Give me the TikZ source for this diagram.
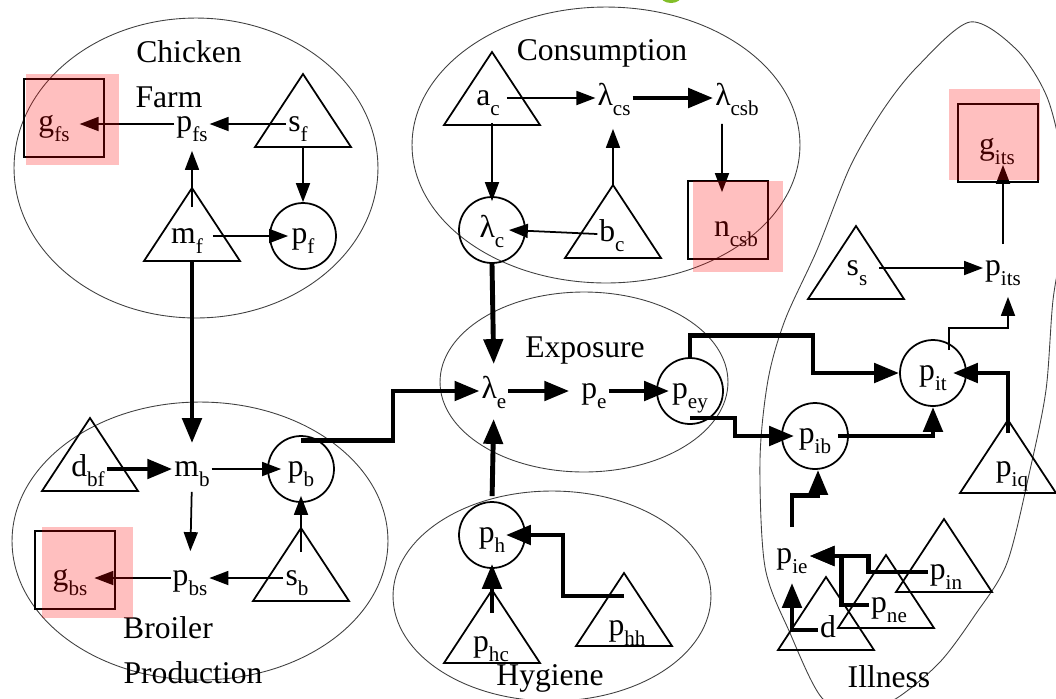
\documentclass[tikz,border=0pt]{standalone}
\usepackage{fontspec}
\setmainfont{Liberation Serif}
\usepackage{tikz}
\usetikzlibrary{arrows.meta,calc}
\definecolor{blobgreen}{RGB}{130,190,40}
\newcommand{\vsub}[2]{#1\raisebox{-6pt}{\fontsize{12}{12}\selectfont #2}}
\newcommand{\drawtri}[2]{\draw[trishape] #2 coordinate (#1) -- ++(-48,73) -- ++(48,0) coordinate (#1b) -- ++(48,0) -- cycle;}

\begin{document}
\begin{tikzpicture}[x=0.02cm,y=-0.02cm,font=\fontsize{18}{20}\selectfont,
  lbl/.style={inner sep=1pt,text height=9pt,text depth=1pt},
  ttl/.style={anchor=base,inner sep=0pt},
  grp/.style={draw=black!75,line width=0.5pt},
  circ/.style={circle,draw,line width=1pt,minimum size=1.32cm,inner sep=0pt,text height=9pt,text depth=1pt},
  sq/.style={draw,line width=1pt,minimum width=1.6cm,minimum height=1.56cm,inner sep=0pt},
  trishape/.style={line width=1pt,line join=miter},
  hl/.style={fill=red,fill opacity=0.25},
  thinarr/.style={line width=1pt,-{Triangle[length=0.38cm,width=0.28cm]}},
  thickarr/.style={line width=2.8pt,-{Triangle[length=0.5cm,width=0.38cm]}}]
\useasboundingbox (0,0) rectangle (1056,698);
\clip (0,0) rectangle (1056,698);
\fill[blobgreen] (671,-5) ellipse [x radius=0.22cm,y radius=0.16cm];

% groups
\draw[grp] (196,168) ellipse [x radius=3.64cm,y radius=3cm];
\draw[grp] (606,145) ellipse [x radius=3.88cm,y radius=2.76cm];
\draw[grp] (584,382) ellipse [x radius=2.88cm,y radius=1.8cm];
\draw[grp] (552,596) ellipse [x radius=3.18cm,y radius=2.1cm];
\draw[grp] (200,541) ellipse [x radius=3.76cm,y radius=2.78cm];
\draw[grp] plot[smooth cycle] coordinates {(970,22) (1017,50) (1047,97) (1062,160)
  (1064,230) (1053,300) (1046,390) (1030,470) (1007,563) (975,615) (940,662) (897,698)
  (860,712) (822,698) (790,633) (765,567) (760,460) (768,380) (785,320) (817,250)
  (850,167) (883,110) (917,67)};

\node[ttl] (chick) at (189,62) {Chicken};
\node[ttl] (farm) at (169,107) {Farm};
\node[ttl] (cons) at (602,60) {Consumption};
\node[ttl] (expo) at (585,357) {Exposure};
\node[ttl] (broil) at (168,638) {Broiler};
\node[ttl] (prod) at (193,683) {Production};
\node[ttl] (hyg) at (550,685) {Hygiene};
\node[ttl] (ill) at (889,687) {Illness};

% chicken farm
\node[sq] (gfsbox) at (64,118) {};
\node[lbl] (gfs) at (54,124) {\vsub{g}{fs}};
\node[lbl] (pfs) at (192,124) {\vsub{p}{fs}};
\drawtri{sfT}{(303,74)}
\node[lbl] (sf) at (298,124) {\vsub{s}{f}};
\node[circ] (pf) at (303,236) {\vsub{p}{f}};
\drawtri{mfT}{(192,188)}
\node[lbl] (mf) at (187,236) {\vsub{m}{f}};
\draw[thinarr] (sf.west) -- (pfs.east);
\draw[thinarr] (pfs.west) -- ([xshift=0.16cm]gfs.east);
\draw[thinarr] (sfTb) -- (pf.north);
\draw[thinarr,shorten >=0.32cm] ([yshift=-0.38cm]mfT) -- (pfs.south);
\draw[thinarr,shorten <=0.16cm] (mf.east) -- ([xshift=0.38cm]pf.west);

% broiler production
\drawtri{dbfT}{(90,418)}
\node[lbl] (dbf) at (88,469) {\vsub{d}{bf}};
\node[lbl] (mb) at (192,469) {\vsub{m}{b}};
\node[circ] (pb) at (301,469) {\vsub{p}{b}};
\node[lbl] (pbs) at (190,578) {\vsub{p}{bs}};
\drawtri{sbT}{(301,528)}
\node[lbl] (sb) at (297,578) {\vsub{s}{b}};
\node[sq] (gbsbox) at (75,570) {};
\node[lbl] (gbs) at (70,578) {\vsub{g}{bs}};
\draw[thickarr] (dbf.east) -- (mb.west);
\draw[thinarr] (mb.east) -- ([xshift=0.28cm]pb.west);
\draw[thinarr,shorten <=0.24cm,shorten >=0.32cm] (mb.south) -- (pbs.north);
\draw[thinarr] (sb.west) -- (pbs.east);
\draw[thinarr] ([yshift=-0.48cm]sbT) -- ([yshift=0.14cm]pb.south);
\draw[thinarr] (pbs.west) -- ([xshift=0.1cm]gbs.east);

% consumption
\drawtri{acT}{(492,52)}
\node[lbl] (ac) at (488,98) {\vsub{a}{c}};
\node[lbl] (lcs) at (614,98) {\vsub{λ}{cs}};
\node[lbl] (lcsb) at (737,98) {\vsub{λ}{csb}};
\node[sq] (ncsbbox) at (728,220) {};
\node[lbl] (ncsb) at (736,229) {\vsub{n}{csb}};
\node[circ] (lc) at (492,230) {\vsub{λ}{c}};
\drawtri{bcT}{(613,185)}
\node[lbl] (bc) at (612,234) {\vsub{b}{c}};
\draw[thinarr,shorten <=0.1cm] (ac.east) -- (lcs.west);
\draw[thickarr] (lcs.east) -- (lcsb.west);
\draw[thinarr,shorten <=0.3cm,shorten >=-0.24cm] ([xshift=-0.3cm]lcsb.south) -- ([xshift=-0.12cm]ncsbbox.north);
\draw[thinarr,shorten <=0.28cm] (lc.north |- ac.south) -- ([yshift=-0.1cm]lc.north);
\draw[thinarr] (bc.west) -- ([xshift=-0.34cm]lc.east);
\draw[thinarr,shorten >=0.4cm] (bcT) -- (bcT |- lcs.south);

% exposure
\node[lbl] (le) at (494,391) {\vsub{λ}{e}};
\node[lbl] (pe) at (594,391) {\vsub{p}{e}};
\node[circ] (pey) at (690,391) {\vsub{p}{ey}};
\draw[thickarr,shorten >=0.2cm] (le.east) -- (pe.west);
\draw[thickarr] (pe.east) -- ([xshift=0.26cm]pey.west);

% hygiene
\node[circ] (ph) at (492,535) {\vsub{p}{h}};
\drawtri{phhT}{(624,573)}
\node[lbl] (phh) at (627,628) {\vsub{p}{hh}};
\drawtri{phcT}{(492,590)}
\node[lbl] (phc) at (491,644) {\vsub{p}{hc}};
\draw[thickarr] ([yshift=-0.46cm]phhT) -- ++(-61,0) |- ([xshift=-0.4cm]ph.east);
\draw[thickarr] ([yshift=-0.46cm]phcT) -- ([yshift=0.1cm]ph.south);

% illness
\node[sq] (gitsbox) at (998,143) {};
\node[lbl] (gits) at (997,147) {\vsub{g}{its}};
\node[lbl] (pits) at (1003,268) {\vsub{p}{its}};
\drawtri{ssT}{(856,226)}
\node[lbl] (ss) at (857,268) {\vsub{s}{s}};
\node[circ] (pit) at (933,373) {\vsub{p}{it}};
\node[circ] (pib) at (815,436) {\vsub{p}{ib}};
\drawtri{piqT}{(1008,420)}
\node[lbl] (piq) at (1012,469) {\vsub{p}{iq}};
\node[lbl] (pie) at (792,556) {\vsub{p}{ie}};
\drawtri{pinT}{(944,519)}
\node[lbl] (pin) at (946,572) {\vsub{p}{in}};
\drawtri{pneT}{(886,555)}
\node[lbl] (pne) at (889,605) {\vsub{p}{ne}};
\drawtri{dT}{(826,577)}
\node[lbl] (dill) at (828,630) {d};
\draw[thinarr,shorten <=0.26cm,shorten >=-0.36cm] (pits.north) -- (pits.north |- gitsbox.south);
\draw[thinarr,shorten <=0.2cm] (ss.east) -- (pits.west);
\draw[thinarr,shorten >=0.36cm] ([shift={(0.32cm,-0.22cm)}]pit.north) -- ++(0,-22) -| ([xshift=0.1cm]pits.south);
\draw[thickarr] ([xshift=-0.22cm]pib.east) -| (pit.south);
\draw[thickarr] ([yshift=-0.26cm]piqT) |- ([xshift=-0.28cm]pit.east);
\draw[thickarr] ([yshift=0.36cm]pie.north) -- ++(0,-32) -| ([xshift=0.06cm]pib.south);
\draw[thickarr,shorten >=0.32cm] (dill.west) -| (pie.south);
\draw[thickarr] (pne.west) -- ++(-28,0) |- (pie.east);
\draw[thickarr] (pin.west) -- ++(-59,0) |- (pie.east);

% links between groups
\draw[thickarr,shorten >=0.3cm] (mfTb) -- (mb.north);
\draw[thickarr] ([yshift=-0.1cm]pb.north) -- ++(92,0) |- (le.west);
\draw[thickarr,shorten >=0.32cm] (lc.south) -- (le.north);
\draw[thickarr,shorten <=0.1cm,shorten >=0.34cm] (ph.north) -- (le.south);
\draw[thickarr] (pey.north) -- ++(0,-22) -- ++(123,0) |- (pit.west);
\draw[thickarr] ([yshift=-0.54cm]pey.center) -- ++(45,0) |- ([xshift=0.26cm]pib.west);

% highlights
\fill[hl] (26,74) rectangle (119,165);
\fill[hl] (42,527) rectangle (133,618);
\fill[hl] (693,181) rectangle (783,272);
\fill[hl] (949,89) rectangle (1040,180);
\end{tikzpicture}
\end{document}
